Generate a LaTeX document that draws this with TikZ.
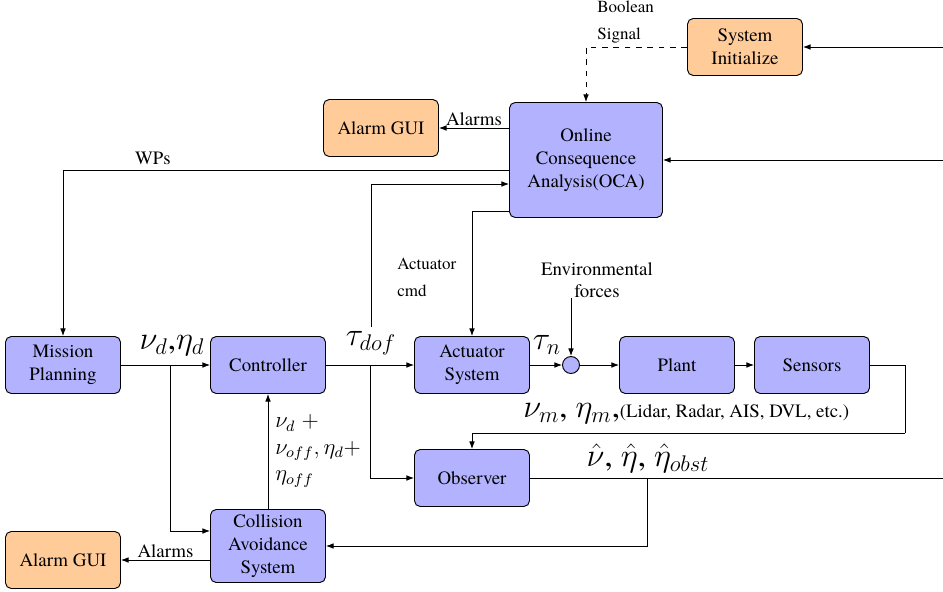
\documentclass[tikz,border=0pt]{standalone}
\usepackage{fontspec}
\setmainfont{texgyretermes}[Extension=.otf, UprightFont=*-regular, BoldFont=*-bold, ItalicFont=*-italic, BoldItalicFont=*-bolditalic]
\usetikzlibrary{arrows.meta}
\begin{document}
\begin{tikzpicture}[x=0.53pt,y=-0.53pt,
  blk/.style={draw, fill=blue!30, rounded corners=3pt, minimum width=60.95pt, minimum height=30.2pt, align=center, inner sep=1pt, line width=0.5pt},
  org/.style={blk, fill=orange!40},
  ar/.style={-{Latex[length=4pt,width=3pt]}, line width=0.5pt},
  ln/.style={line width=0.5pt},
  lbl/.style={inner sep=1pt},
  smalllbl/.style={font=\small, align=left, inner sep=0pt}
]
\useasboundingbox (0,0) rectangle (943,591);

% blocks
\node[org] (init) at (745,47) {System\\Initialize};
\node[blk, minimum width=81.1pt, minimum height=60.95pt] (oca) at (586,160) {Online\\Consequence\\Analysis(OCA)};
\node[org] (gui1) at (381,128) {Alarm GUI};
\node[blk] (mp) at (63,365) {Mission\\Planning};
\node[blk] (ctrl) at (268,365) {Controller};
\node[blk] (act) at (472,365) {Actuator\\System};
\node[draw, fill=blue!30, circle, minimum size=9pt, inner sep=0pt, line width=0.5pt] (sum) at (571,365) {};
\node[blk] (plant) at (677,365) {Plant};
\node[blk] (sens) at (812,365) {Sensors};
\node[blk] (obs) at (472,478) {Observer};
\node[blk, minimum height=38.7pt] (cas) at (268,546) {Collision\\Avoidance\\System};
\node[org] (gui2) at (63,560) {Alarm GUI};

% free ends and branch points
\coordinate (r1) at (943,47);
\coordinate (r2) at (943,160);
\coordinate (r3) at (943,478);
\coordinate (b1) at (170,365);
\coordinate (b2) at (370,365);
\coordinate (b3) at (647,478);
\coordinate (s1) at (905,433);
\coordinate (ef) at (571,298);

% labels
\node[smalllbl, anchor=north west] (bool) at (597,1) {Boolean\\[3pt]Signal};
\node[smalllbl, anchor=north west] (acmd) at (397,258) {Actuator\\[3pt]cmd};
\node[align=center, inner sep=0pt] (env) at (597,280) {Environmental\\forces};
\node[lbl] (wps) at (153,158) {WPs};
\node[lbl, font=\LARGE] (nueta) at (172,346) {$\nu_d$,$\eta_d$};
\node[lbl, font=\LARGE, inner sep=2pt] (taudof) at (371,343) {$\tau_{dof}$};
\node[lbl, font=\LARGE] (taun) at (547,345) {$\tau_n$};
\node[lbl, anchor=west, align=left, font=\large] (off) at (273,451) {$\nu_d\;+$\\$\nu_{off},\eta_d+$\\$\eta_{off}$};
\node[lbl, anchor=west] (meas) at (521,414) {\LARGE$\nu_m$, $\eta_m$,\normalsize(Lidar, Radar, AIS, DVL, etc.)};
\node[lbl, font=\LARGE] (hat) at (648,458) {$\hat\nu$, $\hat\eta$, $\hat\eta_{obst}$};

% connectors
\draw[ar, dashed] (init.west) -| (oca.north);
\draw[ar] (r1) -- (init.east);
\draw[ar] (r2) -- (oca.east);
\draw[ar] (oca.west |- gui1.east) -- node[above, lbl]{Alarms} (gui1.east);
\draw[ar] (oca.west |- 0,170) -| (mp.north);
\draw[ar] (taudof.north) |- (oca.west |- 0,184);
\draw[ar] (oca.west |- 0,211) -| (act.north);
\draw[ar] (mp) -- (ctrl);
\draw[ar] (b1) |- (cas.west |- 0,531);
\draw[ar] (ctrl) -- (act);
\draw[ar] (b2) |- (obs.west);
\draw[ar] (cas.north) -- (ctrl.south);
\draw[ar] (cas.west |- gui2.east) -- node[above, lbl]{Alarms} (gui2.east);
\draw[ar] (act) -- (sum);
\draw[ar] (ef) -- (sum.north);
\draw[ar] (sum) -- (plant);
\draw[ar] (plant) -- (sens);
\draw[ln] (sens.east) -| (s1);
\draw[ar] (s1) -| (obs.north);
\draw[ln] (obs.east) -- (r3);
\draw[ar] (b3) |- (cas.east);
\end{tikzpicture}
\end{document}
